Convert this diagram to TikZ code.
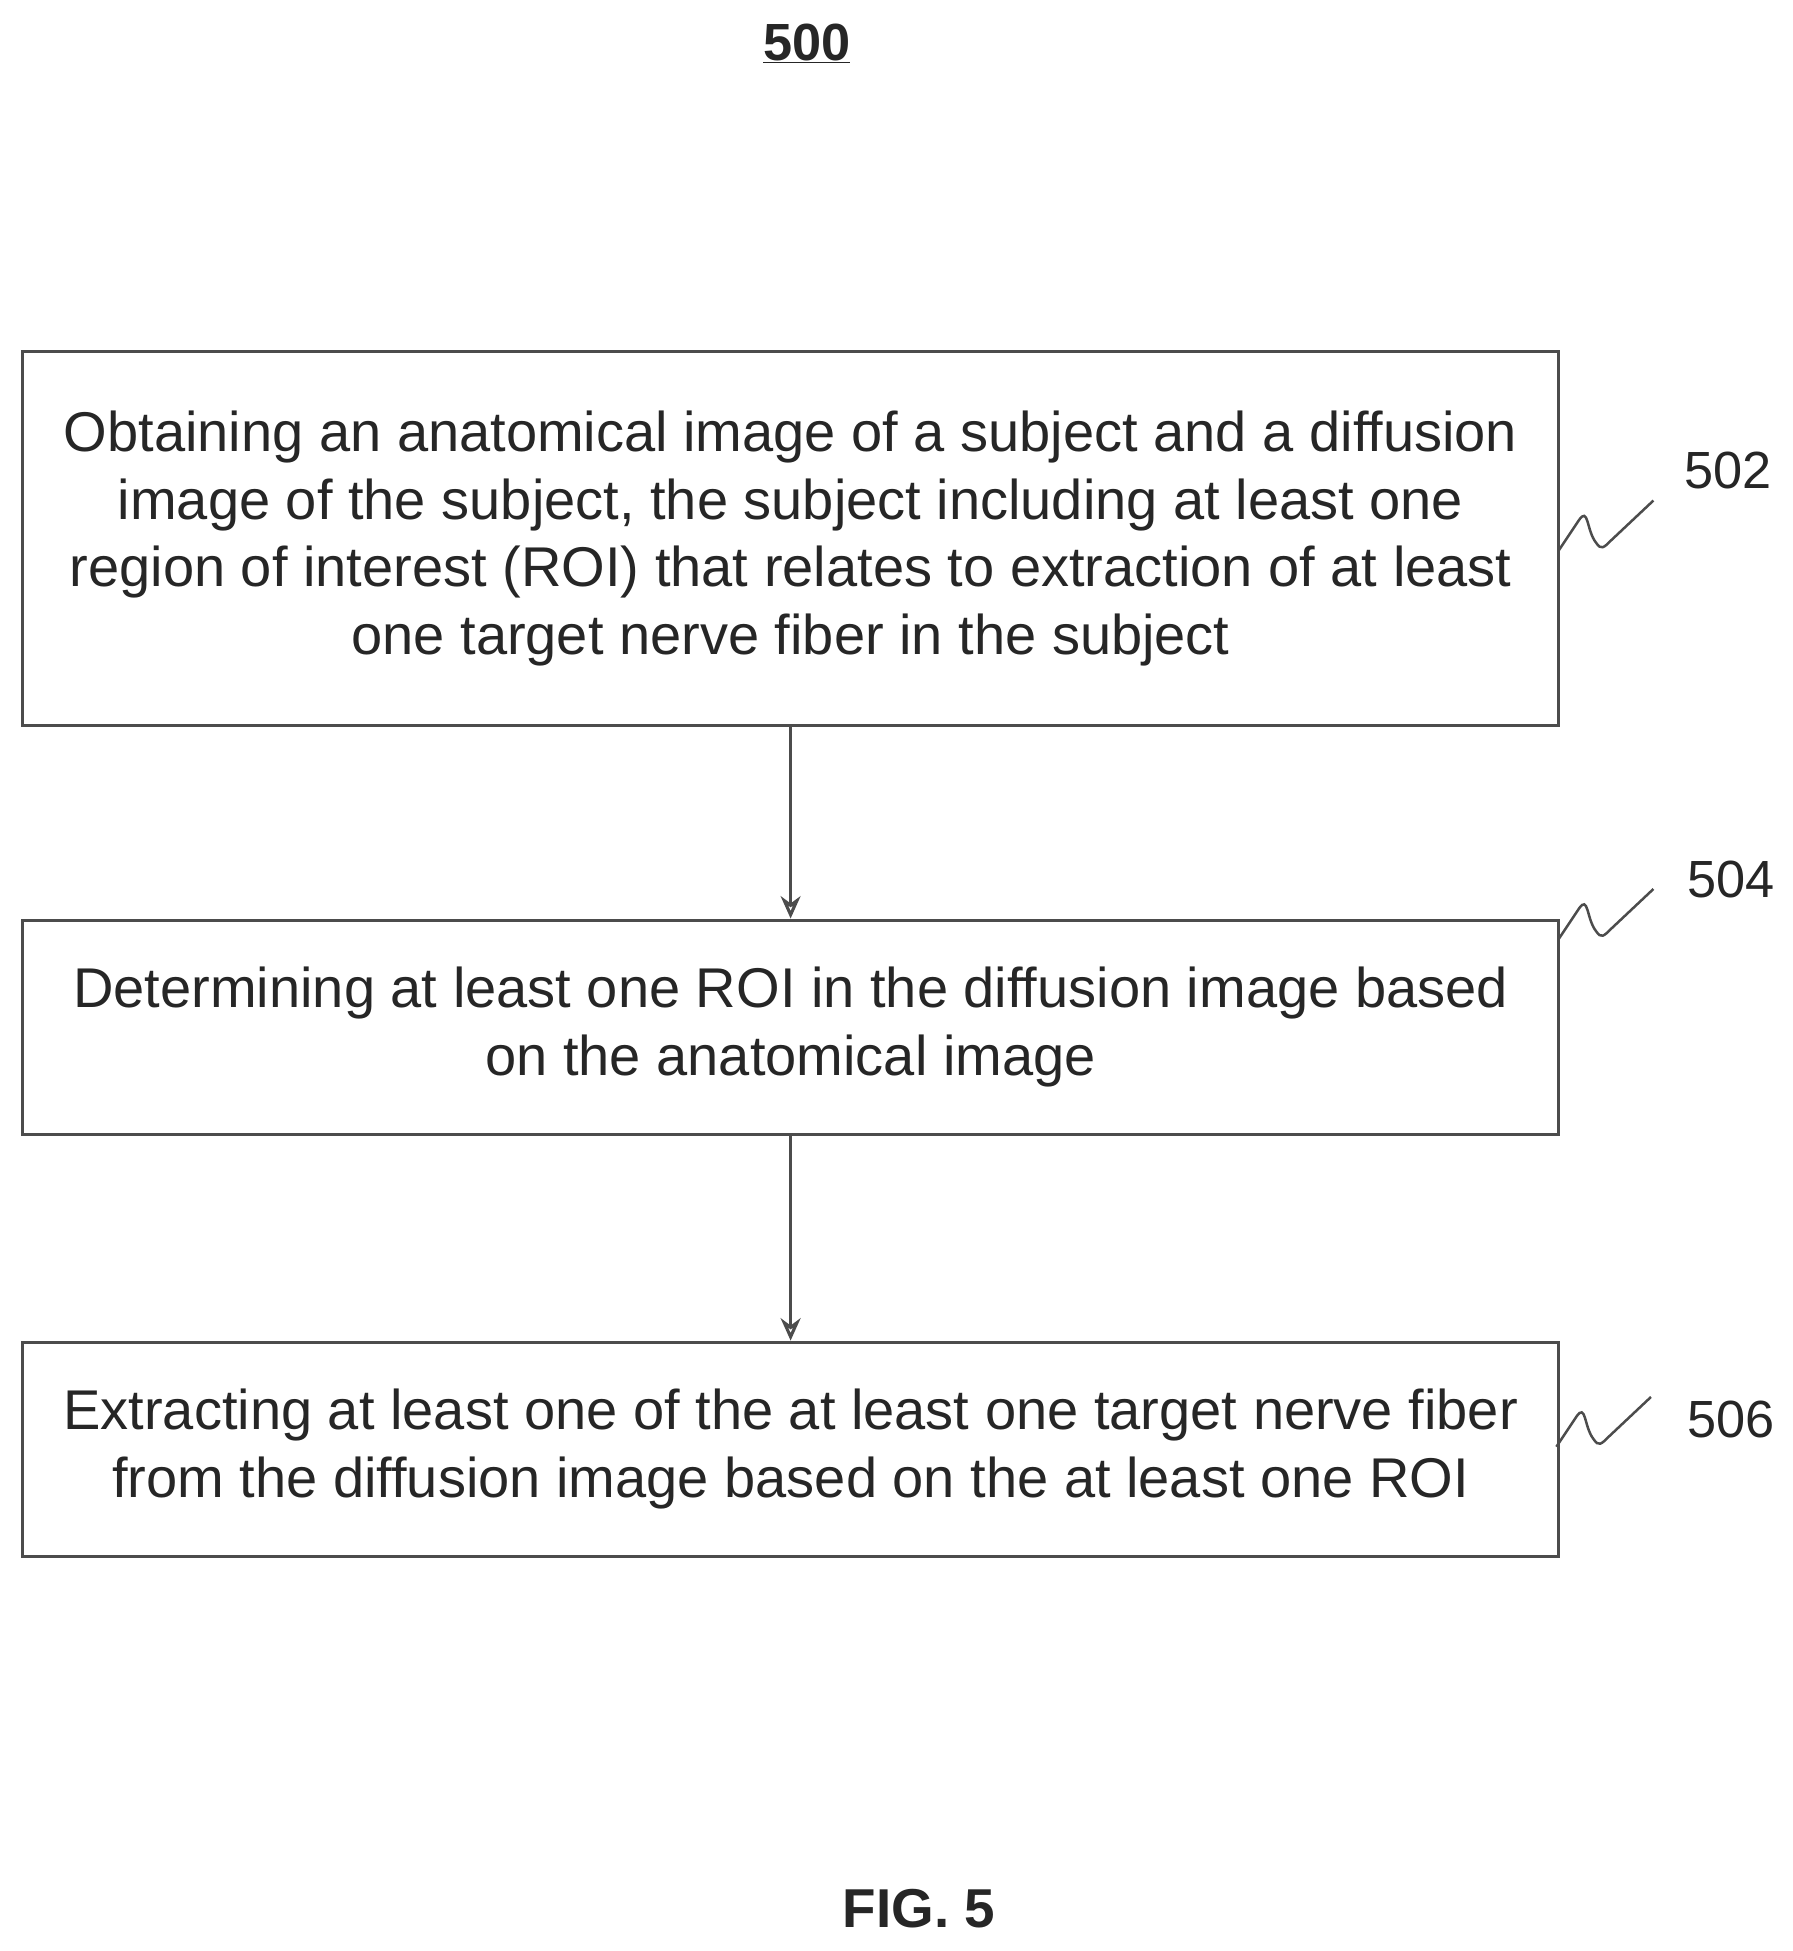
\documentclass[tikz,border=0pt]{standalone}
\usepackage{fontspec}
\setmainfont{Liberation Sans}
\usetikzlibrary{arrows.meta}
\begin{document}
\begin{tikzpicture}[x=1pt,y=-1pt,
  box/.style={draw=black!70,line width=2.5pt,minimum width=1234pt,align=center,inner sep=0pt,
    font=\fontsize{45}{54.5}\selectfont,text=black!85},
  arr/.style={draw=black!70,line width=2.5pt,-{Stealth[length=18pt,width=16pt,open]}},
  lab/.style={font=\fontsize{42}{48}\selectfont,text=black!85},
  sq/.style={draw=black!70,line width=2pt}]
\useasboundingbox (0,0) rectangle (1440,1567);
\node[box,minimum height=301pt] (b1) at (635,432.5) {Obtaining an anatomical image of a subject and a diffusion\\image of the subject, the subject including at least one\\region of interest (ROI) that relates to extraction of at least\\one target nerve fiber in the subject};
\node[box,minimum height=172pt] (b2) at (635,825) {Determining at least one ROI in the diffusion image based\\on the anatomical image};
\node[box,minimum height=172pt] (b3) at (635,1164) {Extracting at least one of the at least one target nerve fiber\\from the diffusion image based on the at least one ROI};
\draw[arr] (b1) -- (b2);
\draw[arr] (b2) -- (b3);
\node[lab] (l1) at (1388,378) {502};
\node[lab] (l2) at (1390,706) {504};
\node[lab] (l3) at (1390,1140) {506};
\coordinate (s1) at (1252,442);
\coordinate (s2) at (1252,754);
\coordinate (s3) at (1250,1162);
\foreach \s in {s1,s2,s3}{
  \draw[sq] (\s) -- ++(16,-24) .. controls ++(8,-12) and ++(-8,-10) .. ++(14,18) .. controls ++(4,6) and ++(-6,6) .. ++(12,-2) -- ++(34,-32);
}
\node[font=\bfseries\fontsize{42}{48}\selectfont,text=black!85] (t) at (648,35) {\underline{500}};
\node[font=\bfseries\fontsize{44}{50}\selectfont,text=black!85] (f) at (738,1533) {FIG. 5};
\end{tikzpicture}
\end{document}
